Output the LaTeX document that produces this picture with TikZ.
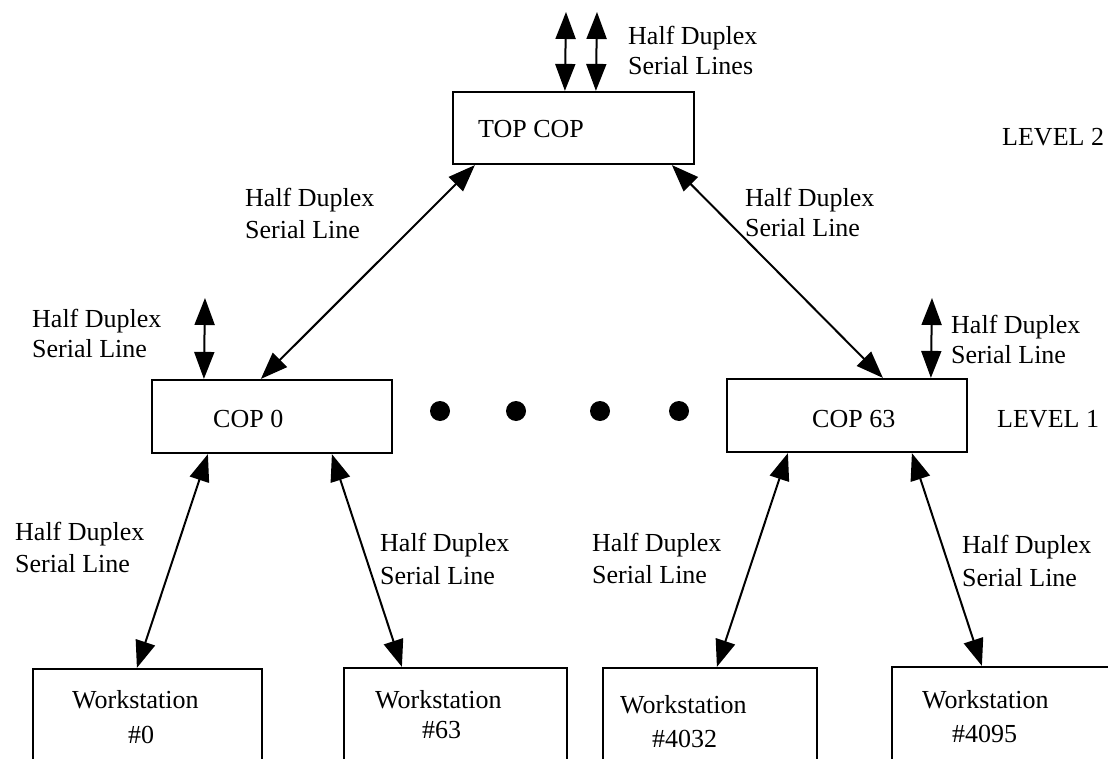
\documentclass[tikz,border=0pt]{standalone}
\usepackage{fontspec}
\setmainfont{Liberation Serif}
\usetikzlibrary{arrows.meta,calc}
\begin{document}
\begin{tikzpicture}[x=1pt,y=-1pt,
  box/.style={draw=black,line width=2.2pt,rectangle,inner sep=0pt},
  txt/.style={inner sep=0pt,anchor=base west,font=\fontsize{26}{30}\selectfont},
  link/.style={line width=2pt,{Triangle[length=27pt,width=20pt]}-{Triangle[length=27pt,width=20pt]}},
  dot/.style={circle,fill=black,inner sep=0pt,minimum size=20pt}]
\useasboundingbox (0,0) rectangle (1108,759);
\clip (0,0) rectangle (1108,759);
% boxes
\node[box,minimum width=241pt,minimum height=72pt] (top) at (573.5,128) {};
\node[box,minimum width=240pt,minimum height=73pt] (cop0) at (272,416.5) {};
\node[box,minimum width=240pt,minimum height=73pt] (cop63) at (847,415.5) {};
\node[box,minimum width=229pt,minimum height=140pt] (ws0) at (147.5,739) {};
\node[box,minimum width=223pt,minimum height=140pt] (ws63) at (455.5,738) {};
\node[box,minimum width=214pt,minimum height=140pt] (ws4032) at (710,738) {};
\node[box,minimum width=228pt,minimum height=140pt] (ws4095) at (1006,737) {};
% box texts
\node[txt] (ttop) at (478,138) {TOP COP};
\node[txt] (tcop0) at (213,427) {COP 0};
\node[txt] (tcop63) at (812,427) {COP 63};
\node[txt] (lev2) at (1002,146) {LEVEL 2};
\node[txt] (lev1) at (997,427) {LEVEL 1};
\node[txt] (w0a) at (72,708) {Workstation};
\node[txt] (w0b) at (128,743) {\#0};
\node[txt] (w63a) at (375,708) {Workstation};
\node[txt] (w63b) at (422,738) {\#63};
\node[txt] (w4032a) at (620,713) {Workstation};
\node[txt] (w4032b) at (652,747) {\#4032};
\node[txt] (w4095a) at (922,708) {Workstation};
\node[txt] (w4095b) at (952,742) {\#4095};
% labels
\node[txt] (l1a) at (628,45) {Half Duplex};
\node[txt] (l1b) at (628,75) {Serial Lines};
\node[txt] (l2a) at (245,207) {Half Duplex};
\node[txt] (l2b) at (245,239) {Serial Line};
\node[txt] (l3a) at (745,207) {Half Duplex};
\node[txt] (l3b) at (745,237) {Serial Line};
\node[txt] (l4a) at (32,327) {Half Duplex};
\node[txt] (l4b) at (32,357) {Serial Line};
\node[txt] (l5a) at (951,333) {Half Duplex};
\node[txt] (l5b) at (951,363) {Serial Line};
\node[txt] (l6a) at (15,540) {Half Duplex};
\node[txt] (l6b) at (15,572) {Serial Line};
\node[txt] (l7a) at (380,551) {Half Duplex};
\node[txt] (l7b) at (380,584) {Serial Line};
\node[txt] (l8a) at (592,551) {Half Duplex};
\node[txt] (l8b) at (592,583) {Serial Line};
\node[txt] (l9a) at (962,553) {Half Duplex};
\node[txt] (l9b) at (962,586) {Serial Line};
% dots
\node[dot] (d1) at (440,411) {};
\node[dot] (d2) at (516,411) {};
\node[dot] (d3) at (600,411) {};
\node[dot] (d4) at (679,411) {};
% free ends
\coordinate (e1) at (566,12);
\coordinate (e2) at (597,12);
\coordinate (e3) at (205,298);
\coordinate (e4) at (932,298);
% connectors
\draw[link] (e1) -- ($(top.north west)+(113,0)$);
\draw[link] (e2) -- ($(top.north west)+(144,0)$);
\draw[link] ($(top.south west)+(23,0)$) -- ($(cop0.north west)+(110,0)$);
\draw[link] ($(top.south west)+(220,0)$) -- ($(cop63.north west)+(157,0)$);
\draw[link] (e3) -- ($(cop0.north west)+(53,0)$);
\draw[link] (e4) -- ($(cop63.north west)+(205,0)$);
\draw[link] ($(cop0.south west)+(57,0)$) -- ($(ws0.north west)+(105,0)$);
\draw[link] ($(cop0.south west)+(181,0)$) -- ($(ws63.north west)+(59,0)$);
\draw[link] ($(cop63.south west)+(62,0)$) -- ($(ws4032.north west)+(115,0)$);
\draw[link] ($(cop63.south west)+(186,0)$) -- ($(ws4095.north west)+(91,0)$);
\end{tikzpicture}
\end{document}
